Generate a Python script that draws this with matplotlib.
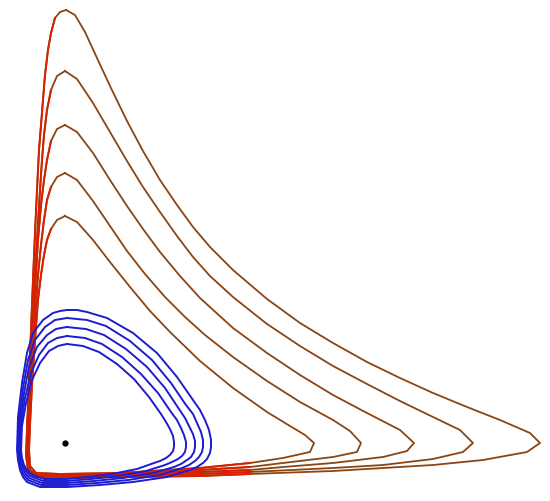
import numpy as np
import matplotlib
matplotlib.use('Agg')
import matplotlib.pyplot as plt

# predator-prey phase portrait: prey on x, predator on y
# red family: each orbit split into left side (falling), bottom (prey growing)
# and the return branch from the prey maximum back to the predator peak
eq_prey = 51
eq_pred = 49

red_left = [
    [(52, 482), (46, 480), (41, 474), (37, 459), (34, 442), (31, 417), (29, 392), (27, 367), (25, 342),
     (23, 302), (21, 259), (19, 212), (17, 162), (15, 112), (13, 62), (12, 37), (14, 22), (20, 15)],
    [(51, 421), (43, 416), (37, 402), (33, 382), (30, 357), (28, 332), (26, 302), (23, 252), (20, 202),
     (17, 152), (15, 102), (13, 57), (13, 34), (15, 22), (21, 16)],
    [(51, 367), (43, 363), (37, 351), (33, 332), (30, 312), (27, 287), (24, 252), (21, 202), (18, 152),
     (16, 102), (14, 57), (14, 34), (16, 22), (22, 17)],
    [(51, 319), (43, 315), (37, 305), (33, 292), (30, 272), (27, 247), (24, 217), (21, 177), (19, 137),
     (16, 92), (14, 54), (14, 34), (16, 22), (22, 17)],
    [(51, 276), (43, 272), (37, 263), (33, 252), (30, 237), (27, 217), (24, 192), (21, 152), (18, 107),
     (16, 67), (15, 42), (16, 26), (22, 19)],
]
red_bottom = [
    [(46, 14), (106, 15), (186, 16), (236, 18), (319, 21), (369, 24), (419, 27), (469, 32), (513, 40), (526, 49)],
    [(46, 15), (106, 16), (186, 18), (236, 20), (319, 24), (369, 27), (419, 33), (449, 40), (459, 49)],
    [(46, 16), (106, 17), (186, 20), (236, 22), (269, 25), (319, 29), (369, 35), (393, 41), (400, 49)],
    [(46, 17), (106, 18), (186, 22), (236, 25), (269, 29), (319, 35), (343, 40), (347, 49)],
    [(46, 18), (106, 19), (186, 24), (236, 29), (269, 34), (296, 40), (300, 49)],
]
red_return = [
    [(516, 59), (486, 72), (453, 85), (419, 99), (386, 114), (353, 130), (319, 149), (286, 169), (253, 193),
     (219, 222), (196, 245), (179, 265), (163, 287), (146, 312), (129, 341), (113, 371), (96, 406), (83, 434),
     (71, 460), (61, 477), (52, 482)],
    [(446, 62), (419, 75), (386, 91), (353, 108), (319, 126), (286, 146), (253, 168), (219, 195), (196, 216),
     (179, 235), (163, 256), (146, 280), (129, 305), (113, 331), (96, 360), (79, 389), (63, 413), (51, 421)],
    [(386, 62), (353, 79), (319, 97), (286, 117), (253, 139), (219, 164), (186, 194), (166, 216), (146, 240),
     (129, 263), (113, 286), (96, 312), (79, 339), (63, 360), (51, 367)],
    [(336, 61), (319, 72), (286, 90), (253, 111), (219, 135), (191, 157), (171, 175), (151, 195), (131, 218),
     (113, 241), (96, 266), (79, 291), (63, 312), (51, 319)],
    [(291, 57), (276, 66), (253, 80), (219, 104), (186, 131), (156, 160), (136, 181), (116, 205), (96, 230),
     (79, 252), (63, 270), (51, 276)],
]

# blue family: closed orbits of the second parameter set
blue_orbits = [
    [(53, 182), (63, 182), (73, 180), (93, 174), (119, 159), (143, 139), (163, 115), (179, 92), (186, 82),
     (191, 72), (195, 62), (197, 52), (197, 45), (196, 39), (193, 33), (189, 29), (183, 25), (176, 22),
     (153, 15), (119, 10), (86, 7), (53, 5), (26, 5), (13, 10), (9, 15), (6, 22), (4, 32), (3, 42), (4, 75),
     (8, 109), (13, 139), (19, 159), (29, 172), (39, 179), (46, 181), (53, 182)],
    [(53, 174), (63, 173), (73, 172), (92, 166), (116, 151), (138, 132), (157, 109), (172, 87), (179, 78),
     (183, 69), (187, 60), (189, 52), (189, 45), (188, 40), (185, 35), (181, 31), (175, 27), (168, 24),
     (146, 17), (114, 12), (83, 9), (53, 7), (27, 7), (14, 12), (10, 17), (7, 23), (5, 32), (4, 42), (5, 72),
     (9, 104), (14, 132), (21, 152), (31, 165), (41, 172), (47, 173), (53, 174)],
    [(53, 165), (62, 164), (72, 163), (90, 157), (112, 143), (133, 125), (151, 104), (165, 83), (171, 74),
     (175, 66), (179, 58), (181, 51), (181, 45), (180, 40), (177, 35), (173, 32), (167, 28), (160, 25),
     (139, 19), (109, 14), (80, 11), (53, 9), (28, 9), (15, 14), (11, 19), (8, 25), (6, 33), (5, 42), (6, 70),
     (10, 99), (15, 125), (23, 145), (33, 157), (42, 163), (47, 164), (53, 165)],
    [(53, 156), (62, 155), (71, 154), (88, 148), (108, 135), (127, 118), (144, 99), (157, 80), (163, 72),
     (167, 64), (170, 57), (172, 50), (172, 45), (171, 40), (168, 36), (164, 33), (158, 30), (151, 27),
     (132, 21), (104, 16), (77, 13), (53, 11), (29, 11), (16, 16), (12, 21), (9, 26), (7, 34), (6, 42), (7, 68),
     (11, 94), (17, 119), (25, 137), (34, 149), (43, 154), (48, 155), (53, 156)],
    [(53, 148), (61, 147), (69, 146), (85, 140), (103, 128), (120, 113), (135, 95), (147, 78), (152, 70),
     (156, 63), (159, 56), (160, 50), (160, 45), (159, 41), (156, 37), (152, 34), (146, 31), (140, 29),
     (123, 23), (98, 18), (74, 15), (53, 13), (30, 13), (17, 18), (13, 22), (10, 27), (8, 34), (7, 42), (8, 66),
     (12, 89), (18, 112), (26, 129), (35, 141), (44, 146), (48, 147), (53, 148)],
]

fig = plt.figure(figsize=(5.5, 5.01), dpi=100)
ax = fig.add_axes([0, 0, 1, 1])

for left, bottom, back in zip(red_left, red_bottom, red_return):
    orbit = np.array(left + bottom + back)
    ax.plot(orbit[:, 0], orbit[:, 1], color='#8b4513', lw=1.3, solid_joinstyle='round')
    # slow part of the cycle near the axes is drawn red
    slow = np.array(left[2:] + bottom[:4])
    ax.plot(slow[:, 0], slow[:, 1], color='#d82000', lw=1.4, solid_joinstyle='round')

for orbit in blue_orbits:
    o = np.array(orbit)
    ax.plot(o[:, 0], o[:, 1], color='#1c1cd0', lw=1.4, solid_joinstyle='round')

ax.plot([eq_prey], [eq_pred], 'o', color='black', ms=3.5)

ax.set_xlim(-14, 536)
ax.set_ylim(-9, 492)
ax.axis('off')

plt.savefig('out.png', dpi=100)
